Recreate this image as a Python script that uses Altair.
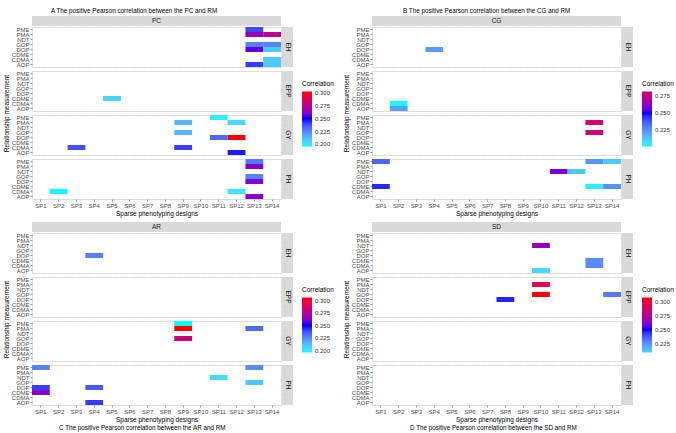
import altair as alt
import pandas as pd

SP = ["SP1", "SP2", "SP3", "SP4", "SP5", "SP6", "SP7", "SP8", "SP9", "SP10", "SP11", "SP12", "SP13", "SP14"]
RM = ["PME", "PMA", "NDT", "GOP", "DOP", "CDME", "CDMA", "AOP"]
TRAITS = ["EH", "EPP", "GY", "PH"]

# ---- A: PC ----
pc_trait = ["EH"] * 10 + ["EPP"] + ["GY"] * 9 + ["PH"] * 7
pc_rm = ["PME", "PMA", "PMA", "GOP", "GOP", "DOP", "DOP", "CDMA", "AOP", "AOP",
         "CDME",
         "PME", "PMA", "PMA", "GOP", "DOP", "DOP", "CDMA", "CDMA", "AOP",
         "PME", "PMA", "GOP", "DOP", "CDMA", "CDMA", "AOP"]
pc_sp = ["SP13", "SP13", "SP14", "SP13", "SP14", "SP13", "SP14", "SP14", "SP13", "SP14",
         "SP5",
         "SP11", "SP9", "SP12", "SP9", "SP11", "SP12", "SP3", "SP9", "SP12",
         "SP13", "SP13", "SP13", "SP13", "SP2", "SP12", "SP13"]
pc_r = [0.240, 0.265, 0.275, 0.226, 0.226, 0.255, 0.209, 0.209, 0.242, 0.209,
        0.207,
        0.200, 0.213, 0.205, 0.213, 0.232, 0.303, 0.238, 0.242, 0.248,
        0.228, 0.262, 0.226, 0.260, 0.196, 0.202, 0.260]

# ---- B: CG ----
cg_trait = ["EH"] + ["EPP"] * 2 + ["GY"] * 2 + ["PH"] * 8
cg_rm = ["DOP",
         "CDMA", "AOP",
         "PMA", "GOP",
         "PME", "PME", "PME", "NDT", "NDT", "CDME", "CDME", "CDME"]
cg_sp = ["SP4",
         "SP2", "SP2",
         "SP13", "SP13",
         "SP1", "SP13", "SP14", "SP11", "SP12", "SP1", "SP13", "SP14"]
cg_r = [0.222,
        0.201, 0.222,
        0.282, 0.279,
        0.235, 0.224, 0.212, 0.258, 0.212, 0.246, 0.203, 0.225]

# ---- C: AR ----
ar_trait = ["EH"] + ["GY"] * 4 + ["PH"] * 8
ar_rm = ["DOP",
         "PME", "PMA", "PMA", "GOP",
         "PME", "PME", "NDT", "GOP", "DOP", "DOP", "CDME", "AOP"]
ar_sp = ["SP4",
         "SP9", "SP9", "SP13", "SP9",
         "SP1", "SP13", "SP11", "SP13", "SP1", "SP4", "SP1", "SP4"]
ar_r = [0.227,
        0.196, 0.306, 0.232, 0.282,
        0.226, 0.224, 0.205, 0.210, 0.242, 0.236, 0.262, 0.243]

# ---- D: SD ----
sd_trait = ["EH"] * 4 + ["EPP"] * 4
sd_rm = ["NDT", "CDME", "CDMA", "AOP",
         "PMA", "GOP", "GOP", "DOP"]
sd_sp = ["SP10", "SP13", "SP13", "SP10",
         "SP10", "SP10", "SP14", "SP8"]
sd_r = [0.265, 0.226, 0.226, 0.209,
        0.294, 0.308, 0.230, 0.247]

FONT = "Liberation Sans"
W, H = 249, 40

# ---- Lab colour interpolation (same maths as d3-color) ----
Xn, Yn, Zn = 0.96422, 1.0, 0.82521
T0, T1 = 4 / 29, 6 / 29
T2, T3 = 3 * T1 * T1, T1 ** 3


def _r2l(x):
    x /= 255
    return x / 12.92 if x <= 0.04045 else ((x + 0.055) / 1.055) ** 2.4


def _x2lab(t):
    return t ** (1 / 3) if t > T3 else t / T2 + T0


def _lab2x(t):
    return t ** 3 if t > T1 else T2 * (t - T0)


def _l2r(x):
    return 255 * (12.92 * x if x <= 0.0031308 else 1.055 * x ** (1 / 2.4) - 0.055)


def hex2lab(h):
    r, g, b = (int(h[i:i + 2], 16) for i in (1, 3, 5))
    r, g, b = _r2l(r), _r2l(g), _r2l(b)
    y = _x2lab((0.2225045 * r + 0.7168786 * g + 0.0606169 * b) / Yn)
    if r == g == b:
        x = z = y
    else:
        x = _x2lab((0.4360747 * r + 0.3850649 * g + 0.1430804 * b) / Xn)
        z = _x2lab((0.0139322 * r + 0.0971045 * g + 0.7141733 * b) / Zn)
    return (116 * y - 16, 500 * (x - y), 200 * (y - z))


def lab2hex(L, a, b):
    y = (L + 16) / 116
    x = y + a / 500
    z = y - b / 200
    x, y, z = Xn * _lab2x(x), Yn * _lab2x(y), Zn * _lab2x(z)
    rgb = [_l2r(3.1338561 * x - 1.6168667 * y - 0.4906146 * z),
           _l2r(-0.9787684 * x + 1.9161415 * y + 0.0334540 * z),
           _l2r(0.0719453 * x - 0.2289914 * y + 1.4052427 * z)]
    return "#" + "".join("%02x" % int(round(min(255, max(0, c)))) for c in rgb)


ANCHORS = [0.2, 0.25, 0.3]
ANCHOR_COLS = ["#00ffff", "#0000ff", "#ff0000"]


def color_at(v):
    v = min(max(v, ANCHORS[0]), ANCHORS[-1])
    i = 0 if v <= ANCHORS[1] else 1
    t = (v - ANCHORS[i]) / (ANCHORS[i + 1] - ANCHORS[i])
    a, b = hex2lab(ANCHOR_COLS[i]), hex2lab(ANCHOR_COLS[i + 1])
    return lab2hex(*[a[k] + (b[k] - a[k]) * t for k in range(3)])


def make_quad(name, trait, rm, sp, r, ticks, title_text, title_orient, title_dx, title_offset):
    df = pd.DataFrame({"trait": trait, "rm": rm, "sp": sp, "r": r})
    lo, hi = min(r), max(r)
    cscale = alt.Scale(domain=[lo, 0.25, hi], range=[color_at(lo), "#0000ff", color_at(hi)],
                       interpolate="lab")
    legend = alt.Legend(title="Correlation", orient="none", legendX=270, legendY=54,
                        direction="vertical", gradientLength=55, gradientThickness=10,
                        gradientStrokeWidth=0, values=ticks, format=".3f",
                        titleFontSize=6.5, titleFontWeight="normal", titleColor="black",
                        titleFont=FONT, labelFont=FONT, labelFontSize=6, labelColor="#333333",
                        titlePadding=4, labelOffset=3)
    rows = []
    for i, t in enumerate(TRAITS):
        last = i == 3
        if last:
            xaxis = alt.Axis(title="Sparse phenotyping designs", labelAngle=0, labelFontSize=6,
                             labelColor="#4D4D4D", labelFont=FONT, tickColor="#333333", tickSize=2,
                             tickWidth=0.5, domain=False, grid=True, gridColor="white",
                             gridWidth=0.8, bandPosition=0.5, labelPadding=1, zindex=0,
                             titleFontSize=6.5, titleFontWeight="normal", titleColor="black",
                             titleFont=FONT, titlePadding=2)
        else:
            xaxis = alt.Axis(title=None, labels=False, ticks=False, domain=False, grid=True,
                             gridColor="white", gridWidth=0.8, bandPosition=0.5, zindex=0)
        yaxis = alt.Axis(title="Relationship measurement" if t == "EPP" else None,
                         titleY=H + 2, labelFontSize=6, labelColor="#4D4D4D", labelFont=FONT,
                         tickColor="#333333", tickSize=2, tickWidth=0.5, domain=False, grid=True,
                         gridColor="white", gridWidth=0.8, bandPosition=0.5, labelPadding=1,
                         labelOverlap=False, titleFontSize=6.5, titleFontWeight="normal",
                         titleColor="black", titleFont=FONT, titlePadding=2, zindex=0)
        heat = alt.Chart(df).transform_filter(alt.datum.trait == t).mark_rect().encode(
            x=alt.X("sp:N", scale=alt.Scale(domain=SP, paddingInner=0, paddingOuter=0), axis=xaxis),
            y=alt.Y("rm:N", scale=alt.Scale(domain=RM, paddingInner=0, paddingOuter=0), axis=yaxis),
            color=alt.Color("r:Q", scale=cscale, legend=legend),
        )
        sdf = pd.DataFrame({"lab": [t]})
        strip_bg = alt.Chart(sdf).mark_rect(color="#D9D9D9").encode(
            x=alt.value(W + 1), x2=alt.value(W + 12), y=alt.value(0), y2=alt.value(H))
        strip_tx = alt.Chart(sdf).mark_text(angle=90, fontSize=6.5, color="#1A1A1A", font=FONT).encode(
            text="lab:N", x=alt.value(W + 6.5), y=alt.value(H / 2))
        layers = [heat, strip_bg, strip_tx]
        if i == 0:
            hdf = pd.DataFrame({"lab": [name]})
            layers.append(alt.Chart(hdf).mark_rect(color="#D9D9D9").encode(
                x=alt.value(0), x2=alt.value(W), y=alt.value(-11), y2=alt.value(-1)))
            layers.append(alt.Chart(hdf).mark_text(fontSize=6.5, color="#1A1A1A", font=FONT).encode(
                text="lab:N", x=alt.value(W / 2), y=alt.value(-6)))
        rows.append(alt.layer(*layers).properties(width=W, height=H))
    quad = alt.vconcat(*rows, spacing=4, bounds="flush").properties(
        title=alt.Title(title_text, orient=title_orient, anchor="start", frame="group",
                        dx=title_dx, offset=title_offset, fontSize=6.3, fontWeight="normal",
                        font=FONT, color="black"))
    return quad


A = make_quad("PC", pc_trait, pc_rm, pc_sp, pc_r, [0.2, 0.225, 0.25, 0.275, 0.3],
              "A The positive Pearson correlation between the PC and RM", "top", 19, 1)
B = make_quad("CG", cg_trait, cg_rm, cg_sp, cg_r, [0.225, 0.25, 0.275],
              "B The positive Pearson correlation between the CG and RM", "top", 31, 1)
C = make_quad("AR", ar_trait, ar_rm, ar_sp, ar_r, [0.2, 0.225, 0.25, 0.275, 0.3],
              "C The positive Pearson correlation between the AR and RM", "bottom", 27, 2)
D = make_quad("SD", sd_trait, sd_rm, sd_sp, sd_r, [0.225, 0.25, 0.275, 0.3],
              "D The positive Pearson correlation between the SD and RM", "bottom", 38, 2)

top = alt.hconcat(A, B, spacing=8).resolve_scale(color="independent")
bot = alt.hconcat(C, D, spacing=8).resolve_scale(color="independent")

chart = alt.vconcat(top, bot, spacing=4).resolve_scale(
    color="independent"
).properties(
    padding={"left": 2, "top": 8, "right": 0, "bottom": 0},
    background="white",
).configure_view(
    fill="#EBEBEB", stroke=None
).configure(font=FONT)

chart.save("out.html", embed_options={"renderer": "svg", "actions": False})
